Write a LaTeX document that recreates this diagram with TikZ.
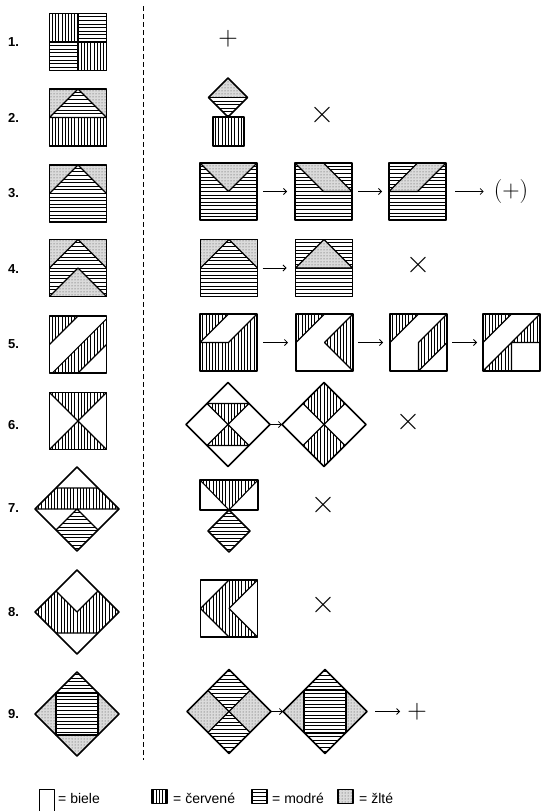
\documentclass[tikz,border=0pt]{standalone}
\usepackage{fontspec}
\newfontfamily\sansf{Liberation Sans}
\usetikzlibrary{patterns,arrows.meta,shapes.geometric}
\newcommand{\hatchV}[1]{\fill[white] #1;\begin{scope}\clip #1;\foreach \k in {-15,...,15}{\draw[hatchln] (\k*3.2,-47) -- (\k*3.2,47);}\end{scope}}
\newcommand{\hatchH}[1]{\fill[white] #1;\begin{scope}\clip #1;\foreach \k in {-13,...,13}{\draw[hatchln] (-47,\k*3.6) -- (47,\k*3.6);}\end{scope}}
\newcommand{\stip}[1]{\fill[black!14] #1;\fill[pattern=dots,pattern color=black!75] #1;}
\begin{document}
\begin{tikzpicture}[x=1pt,y=-1pt,line join=round,
  outl/.style={line width=1.5pt},
  inl/.style={line width=1.1pt},
  hatchln/.style={line width=0.95pt},
  sqn/.style={draw,line width=1.5pt,minimum size=57pt,inner sep=0pt,outer sep=0pt},
  dmd/.style={diamond,aspect=1,draw,line width=1.5pt,minimum width=84pt,minimum height=84pt,inner sep=0pt,outer sep=0pt},
  arr/.style={-{Straight Barb[length=3pt,width=6pt]},line width=0.8pt},
  lab/.style={anchor=west,inner sep=0pt,font=\sansf\bfseries\fontsize{13}{15}\selectfont},
  yessym/.style={inner sep=0pt,font=\fontsize{27}{27}\selectfont},
  nosym/.style={inner sep=0pt,font=\fontsize{34}{34}\selectfont},
  legtxt/.style={anchor=base west,inner sep=0pt,font=\sansf\fontsize{14}{16}\selectfont}]
\useasboundingbox (0,0) rectangle (541,811);
\fill[white] (0,0) rectangle (541,811);
% dashed separator
\coordinate (dtop) at (143,6);
\coordinate (dbot) at (143,760);
\draw[line width=0.8pt,dash pattern=on 5pt off 3pt] (dtop) -- (dbot);
% labels
\node[lab] (n1) at (8,42) {1.};
\node[lab] (n2) at (8,118) {2.};
\node[lab] (n3) at (8,193) {3.};
\node[lab] (n4) at (8,269) {4.};
\node[lab] (n5) at (8,344) {5.};
\node[lab] (n6) at (8,425) {6.};
\node[lab] (n7) at (8,508) {7.};
\node[lab] (n8) at (8,612) {8.};
\node[lab] (n9) at (8,714) {9.};
% ---------- left column ----------
% 1
\begin{scope}[shift={(78,42)}]
\hatchV{(-28.5,-28.5) rectangle (0,0)}
\hatchH{(0,-28.5) rectangle (28.5,0)}
\hatchH{(-28.5,0) rectangle (0,28.5)}
\hatchV{(0,0) rectangle (28.5,28.5)}
\draw[inl] (0,-28.5) -- (0,28.5) (-28.5,0) -- (28.5,0);
\end{scope}
\node[sqn] (L1) at (78,42) {};
% 2
\begin{scope}[shift={(78,117.5)}]
\stip{(-28.5,-28.5) rectangle (28.5,0)}
\hatchH{(-28.5,0) -- (0,-28.5) -- (28.5,0) -- cycle}
\hatchV{(-28.5,0) rectangle (28.5,28.5)}
\draw[inl] (-28.5,0) -- (0,-28.5) -- (28.5,0) (-28.5,0) -- (28.5,0);
\end{scope}
\node[sqn] (L2) at (78,117.5) {};
% 3
\begin{scope}[shift={(78,193.5)}]
\hatchH{(-28.5,-28.5) rectangle (28.5,28.5)}
\stip{(-28.5,-28.5) -- (0,-28.5) -- (-28.5,0) -- cycle}
\stip{(0,-28.5) -- (28.5,-28.5) -- (28.5,0) -- cycle}
\draw[inl] (-28.5,0) -- (0,-28.5) -- (28.5,0);
\end{scope}
\node[sqn] (L3) at (78,193.5) {};
% 4
\begin{scope}[shift={(78,268)}]
\hatchH{(-28.5,-28.5) rectangle (28.5,28.5)}
\stip{(-28.5,-28.5) -- (0,-28.5) -- (-28.5,0) -- cycle}
\stip{(0,-28.5) -- (28.5,-28.5) -- (28.5,0) -- cycle}
\stip{(-28.5,28.5) -- (0,0) -- (28.5,28.5) -- cycle}
\draw[inl] (-28.5,0) -- (0,-28.5) -- (28.5,0) (-28.5,28.5) -- (0,0) -- (28.5,28.5);
\end{scope}
\node[sqn] (L4) at (78,268) {};
% 5
\begin{scope}[shift={(78,344.5)}]
\hatchV{(-28.5,-28.5) -- (0,-28.5) -- (-28.5,0) -- cycle}
\hatchV{(-25.6,28.5) -- (28.5,-25.6) -- (28.5,0) -- (0,28.5) -- cycle}
\draw[inl] (-28.5,0) -- (0,-28.5) (-25.6,28.5) -- (28.5,-25.6) (0,28.5) -- (28.5,0);
\end{scope}
\node[sqn] (L5) at (78,344.5) {};
% 6
\begin{scope}[shift={(78,421)}]
\hatchV{(-28.5,-28.5) -- (28.5,-28.5) -- (0,0) -- cycle}
\hatchV{(-28.5,28.5) -- (28.5,28.5) -- (0,0) -- cycle}
\draw[inl] (-28.5,-28.5) -- (28.5,28.5) (28.5,-28.5) -- (-28.5,28.5);
\end{scope}
\node[sqn] (L6) at (78,421) {};
% 7
\begin{scope}[shift={(77,509)}]
\hatchV{(-21,-21) -- (21,-21) -- (42,0) -- (-42,0) -- cycle}
\hatchH{(0,0) -- (21,21) -- (0,42) -- (-21,21) -- cycle}
\draw[inl] (-21,-21) -- (21,-21) (-42,0) -- (42,0) (-21,21) -- (0,0) -- (21,21);
\end{scope}
\node[dmd] (L7) at (77,509) {};
% 8
\begin{scope}[shift={(77,612)}]
\hatchV{(-42,0) -- (-21,-21) -- (0,0) -- (21,-21) -- (42,0) -- (21,21) -- (-21,21) -- cycle}
\draw[inl] (-21,-21) -- (0,0) -- (21,-21) (-21,21) -- (21,21);
\end{scope}
\node[dmd] (L8) at (77,612) {};
% 9
\begin{scope}[shift={(77,714)}]
\hatchH{(0,-42) -- (21,-21) -- (21,21) -- (-21,21) -- (-21,-21) -- cycle}
\stip{(-42,0) -- (-21,-21) -- (-21,21) -- cycle}
\stip{(42,0) -- (21,-21) -- (21,21) -- cycle}
\stip{(-21,21) -- (21,21) -- (0,42) -- cycle}
\draw[inl] (-21,-21) rectangle (21,21);
\end{scope}
\node[dmd] (L9) at (77,714) {};
% ---------- right column ----------
% row 1
\node[yessym] (P1) at (228,39) {+};
% row 2
\begin{scope}[shift={(228,97.5)}]
\stip{(-19.5,0) -- (0,-19.5) -- (19.5,0) -- cycle}
\hatchH{(-19.5,0) -- (0,19.5) -- (19.5,0) -- cycle}
\draw[inl] (-19.5,0) -- (19.5,0);
\end{scope}
\node[dmd,minimum width=39pt,minimum height=39pt] (R2a) at (228,97.5) {};
\begin{scope}[shift={(228.5,131.5)}]
\hatchV{(-15.5,-14.5) rectangle (15.5,14.5)}
\end{scope}
\node[draw,outl,minimum width=31pt,minimum height=29pt,inner sep=0pt] (R2b) at (228.5,131.5) {};
\node[nosym] (X2) at (322,115) {×};
% row 3
\begin{scope}[shift={(228.5,191.5)}]
\hatchH{(-28.5,-28.5) rectangle (28.5,28.5)}
\stip{(-28.5,-28.5) -- (28.5,-28.5) -- (0,0) -- cycle}
\draw[inl] (-28.5,-28.5) -- (0,0) -- (28.5,-28.5);
\end{scope}
\node[sqn] (R3a) at (228.5,191.5) {};
\begin{scope}[shift={(323.5,191.5)}]
\hatchH{(-28.5,-28.5) rectangle (28.5,28.5)}
\stip{(-28.5,-28.5) -- (0,-28.5) -- (28.5,0) -- (0,0) -- cycle}
\draw[inl] (-28.5,-28.5) -- (0,0) -- (28.5,0) -- (0,-28.5);
\end{scope}
\node[sqn] (R3b) at (323.5,191.5) {};
\begin{scope}[shift={(417.5,191.5)}]
\hatchH{(-28.5,-28.5) rectangle (28.5,28.5)}
\stip{(0,-28.5) -- (28.5,-28.5) -- (0,0) -- (-28.5,0) -- cycle}
\draw[inl] (28.5,-28.5) -- (0,0) -- (-28.5,0) -- (0,-28.5);
\end{scope}
\node[sqn] (R3c) at (417.5,191.5) {};
\node[inner sep=0pt,font=\fontsize{24}{24}\selectfont] (P3) at (511,191.5) {(+)};
\draw[arr,shorten <=6pt,shorten >=8pt] (R3a) -- (R3b);
\draw[arr,shorten <=6pt,shorten >=7pt] (R3b) -- (R3c);
\draw[arr,shorten <=9pt,shorten >=10pt] (R3c) -- (P3);
% row 4
\begin{scope}[shift={(229,268)}]
\hatchH{(-28.5,-28.5) rectangle (28.5,28.5)}
\stip{(-28.5,-28.5) -- (0,-28.5) -- (-28.5,0) -- cycle}
\stip{(0,-28.5) -- (28.5,-28.5) -- (28.5,0) -- cycle}
\draw[inl] (-28.5,0) -- (0,-28.5) -- (28.5,0);
\end{scope}
\node[sqn] (R4a) at (229,268) {};
\begin{scope}[shift={(324,268)}]
\hatchH{(-28.5,-28.5) rectangle (28.5,28.5)}
\stip{(-28.5,0) -- (0,-28.5) -- (28.5,0) -- cycle}
\draw[inl] (-28.5,0) -- (0,-28.5) -- (28.5,0) -- cycle;
\end{scope}
\node[sqn] (R4b) at (324,268) {};
\draw[arr,shorten <=5pt,shorten >=9pt] (R4a) -- (R4b);
\node[nosym] (X4) at (418,265) {×};
% row 5
\begin{scope}[shift={(228.5,342.5)}]
\hatchV{(-28.5,-28.5) -- (0,-28.5) -- (-28.5,0) -- cycle}
\hatchV{(28.5,-28.5) -- (28.5,28.5) -- (-28.5,28.5) -- (-28.5,0) -- (0,0) -- cycle}
\draw[inl] (0,-28.5) -- (-28.5,0) (28.5,-28.5) -- (0,0) -- (-28.5,0);
\end{scope}
\node[sqn] (R5a) at (228.5,342.5) {};
\begin{scope}[shift={(324.5,342.5)}]
\hatchV{(-28.5,-28.5) -- (0,-28.5) -- (-28.5,0) -- cycle}
\hatchV{(28.5,-28.5) -- (0,0) -- (28.5,28.5) -- cycle}
\draw[inl] (0,-28.5) -- (-28.5,0) (28.5,-28.5) -- (0,0) -- (28.5,28.5);
\end{scope}
\node[sqn] (R5b) at (324.5,342.5) {};
\begin{scope}[shift={(418.5,342.5)}]
\hatchV{(-28.5,-28.5) -- (0,-28.5) -- (-28.5,0) -- cycle}
\hatchV{(0,0) -- (28.5,-28.5) -- (28.5,0) -- (0,28.5) -- cycle}
\draw[inl] (0,-28.5) -- (-28.5,0) (0,28.5) -- (0,0) -- (28.5,-28.5) (0,28.5) -- (28.5,0);
\end{scope}
\node[sqn] (R5c) at (418.5,342.5) {};
\begin{scope}[shift={(511.5,342.5)}]
\hatchV{(-28.5,-28.5) -- (0,-28.5) -- (-28.5,0) -- cycle}
\hatchV{(0,0) -- (28.5,-28.5) -- (28.5,0) -- cycle}
\hatchV{(-28.5,28.5) -- (0,0) -- (0,28.5) -- cycle}
\draw[inl] (0,-28.5) -- (-28.5,0) (-28.5,28.5) -- (28.5,-28.5) (0,28.5) -- (0,0) -- (28.5,0);
\end{scope}
\node[sqn] (R5d) at (511.5,342.5) {};
\draw[arr,shorten <=6pt,shorten >=8pt] (R5a) -- (R5b);
\draw[arr,shorten <=5pt,shorten >=7pt] (R5b) -- (R5c);
\draw[arr,shorten <=5pt,shorten >=6pt] (R5c) -- (R5d);
% row 6
\begin{scope}[shift={(228,424.5)}]
\hatchV{(-21,-21) -- (21,-21) -- (0,0) -- cycle}
\hatchV{(-21,21) -- (21,21) -- (0,0) -- cycle}
\draw[inl] (-21,-21) -- (21,-21) (-21,21) -- (21,21) (-21,-21) -- (21,21) (21,-21) -- (-21,21);
\end{scope}
\node[dmd] (R6a) at (228,424.5) {};
\begin{scope}[shift={(324,424.5)}]
\hatchV{(0,-42) -- (21,-21) -- (0,0) -- (-21,-21) -- cycle}
\hatchV{(0,42) -- (21,21) -- (0,0) -- (-21,21) -- cycle}
\draw[inl] (-21,-21) -- (21,21) (21,-21) -- (-21,21);
\end{scope}
\node[dmd] (R6b) at (324,424.5) {};
\draw[arr] (R6a) -- (R6b);
\node[nosym] (X6) at (408,422) {×};
% row 7
\begin{scope}[shift={(229,495)}]
\hatchV{(-29,-15) -- (29,-15) -- (0,15) -- cycle}
\draw[inl] (-29,-15) -- (0,15) -- (29,-15);
\end{scope}
\node[draw,outl,minimum width=58pt,minimum height=30pt,inner sep=0pt] (R7a) at (229,495) {};
\begin{scope}[shift={(229,531)}]
\hatchH{(0,-21) -- (21,0) -- (0,21) -- (-21,0) -- cycle}
\end{scope}
\node[dmd,minimum width=42pt,minimum height=42pt] (R7b) at (229,531) {};
\node[nosym] (X7) at (323,505) {×};
% row 8
\begin{scope}[shift={(229,608.5)}]
\hatchV{(0,-28.5) -- (28.5,-28.5) -- (0,0) -- (28.5,28.5) -- (0,28.5) -- (-28.5,0) -- cycle}
\draw[inl] (0,-28.5) -- (-28.5,0) -- (0,28.5) (28.5,-28.5) -- (0,0) -- (28.5,28.5);
\end{scope}
\node[sqn] (R8a) at (229,608.5) {};
\node[nosym] (X8) at (323,605) {×};
% row 9
\begin{scope}[shift={(229,711.5)}]
\hatchH{(0,-42) -- (21,-21) -- (0,0) -- (-21,-21) -- cycle}
\hatchH{(0,42) -- (21,21) -- (0,0) -- (-21,21) -- cycle}
\stip{(-42,0) -- (-21,-21) -- (0,0) -- (-21,21) -- cycle}
\stip{(42,0) -- (21,-21) -- (0,0) -- (21,21) -- cycle}
\draw[inl] (-21,-21) -- (21,21) (21,-21) -- (-21,21);
\end{scope}
\node[dmd] (R9a) at (229,711.5) {};
\begin{scope}[shift={(325,711.5)}]
\hatchH{(0,-42) -- (21,-21) -- (21,21) -- (0,42) -- (-21,21) -- (-21,-21) -- cycle}
\stip{(-42,0) -- (-21,-21) -- (-21,21) -- cycle}
\stip{(42,0) -- (21,-21) -- (21,21) -- cycle}
\draw[inl] (-21,-21) rectangle (21,21);
\end{scope}
\node[dmd] (R9b) at (325,711.5) {};
\node[yessym] (P9) at (417,711.5) {+};
\draw[arr] (R9a) -- (R9b);
\draw[arr,shorten <=8pt,shorten >=7pt] (R9b) -- (P9);
% ---------- legend ----------
\coordinate (wbl) at (39.5,812);
\coordinate (wbr) at (54.5,812);
\draw[outl] (wbl) |- (47,789.5) -| (wbr);
\node[legtxt] (t1) at (58,803) {= biele};
\begin{scope}[shift={(159.5,796.5)}]
\hatchV{(-7.5,-7) rectangle (7.5,7)}
\end{scope}
\node[draw,outl,minimum width=15pt,minimum height=14pt,inner sep=0pt] (k2) at (159.5,796.5) {};
\node[legtxt] (t2) at (173,803) {= červené};
\begin{scope}[shift={(259.5,796.5)}]
\hatchH{(-7.5,-7) rectangle (7.5,7)}
\end{scope}
\node[draw,outl,minimum width=15pt,minimum height=14pt,inner sep=0pt] (k3) at (259.5,796.5) {};
\node[legtxt] (t3) at (272,803) {= modré};
\begin{scope}[shift={(345.5,796.5)}]
\stip{(-7.5,-7) rectangle (7.5,7)}
\end{scope}
\node[draw,outl,minimum width=15pt,minimum height=14pt,inner sep=0pt] (k4) at (345.5,796.5) {};
\node[legtxt] (t4) at (359,803) {= žlté};
\end{tikzpicture}
\end{document}
